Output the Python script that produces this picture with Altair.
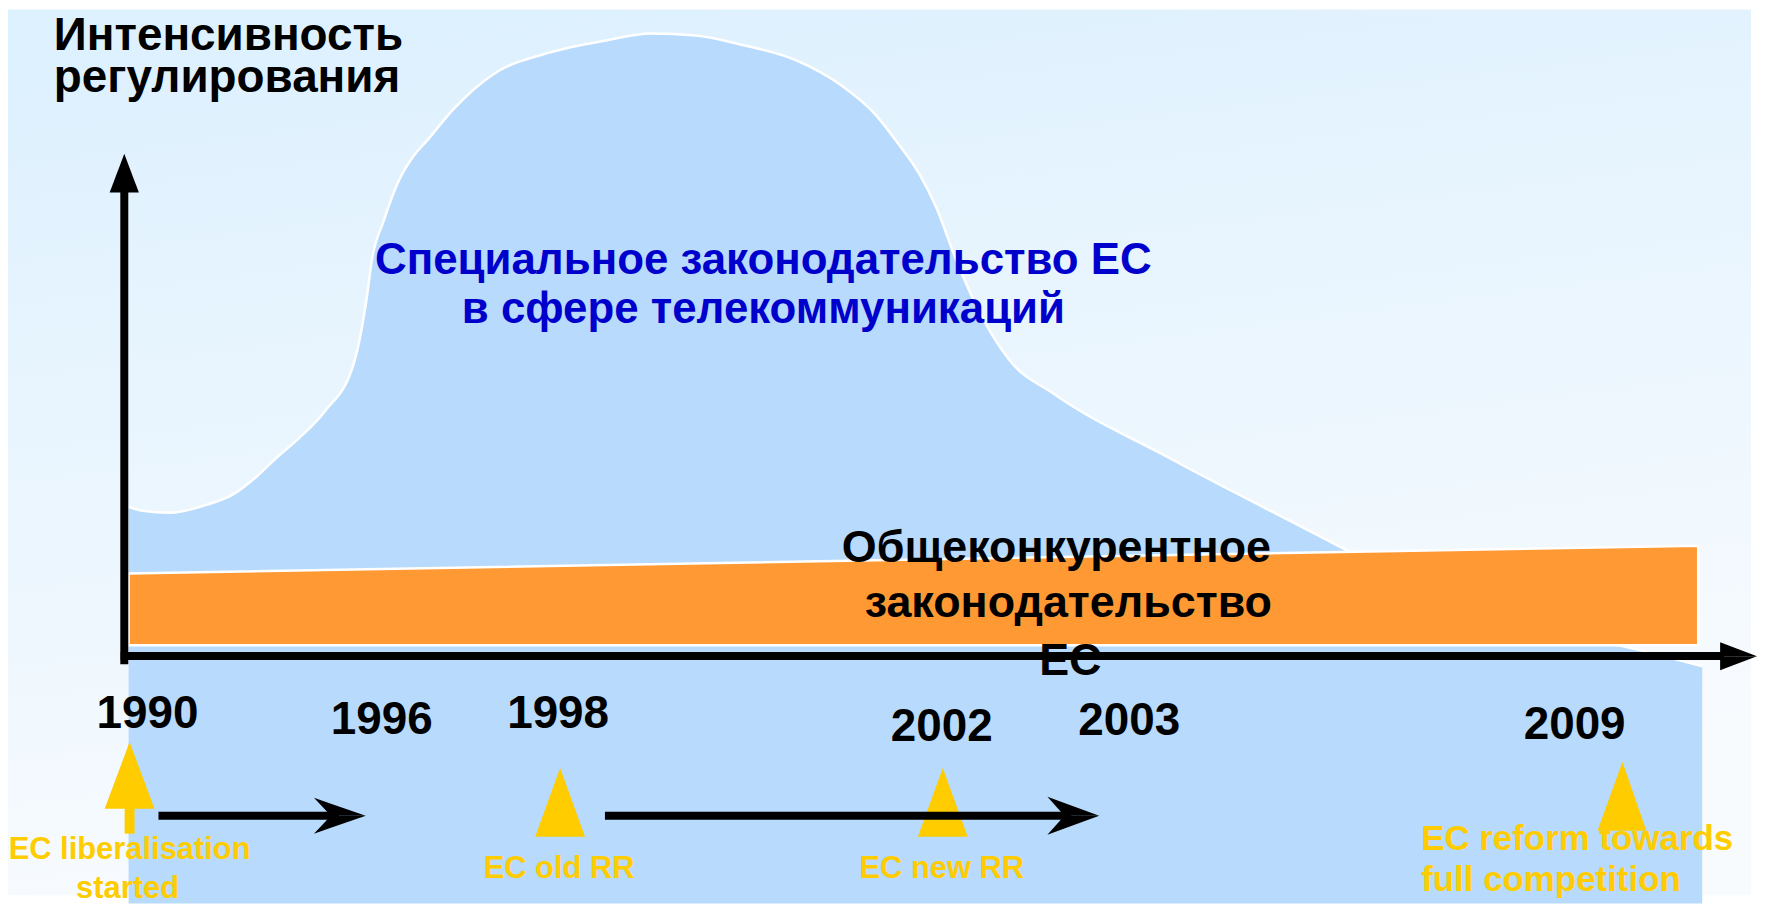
import altair as alt
import pandas as pd

# ---- data (diagram units = reference pixel grid) ----
hump_x = [129, 143, 170, 207, 233, 257, 275, 300, 326, 355, 362, 368, 373, 385, 400, 415, 428,
          456, 495, 552, 608, 653, 698, 743, 799, 844, 878, 900, 923, 940, 957, 979, 1013, 1058,
          1177, 1350, 1480, 1633, 1708]
hump_y = [507, 511, 513, 505, 495, 477, 460, 438, 411, 363, 333, 297, 260, 220, 180, 155, 140,
          107, 73, 51, 39, 32, 34, 43, 59, 84, 113, 141, 174, 208, 253, 304, 360, 394,
          460, 550, 620, 648, 667]
hump_floor = 905

band_x = [129, 1704]
band_top = [574, 546]
band_bottom = [646, 646]

axis_title = ["Интенсивность", "регулирования"]
axis_title_x = [54, 54]
axis_title_y = [49, 91]

special_lines = ["Специальное законодательство ЕС", "в сфере телекоммуникаций"]
special_x = [766, 766]
special_y = [273, 323]

general_lines = ["Общеконкурентное", "законодательство", "ЕС"]
general_x = [1060, 1072, 1074]
general_y = [562, 618, 676]

year_labels = ["1990", "1996", "1998", "2002", "2003", "2009"]
year_x = [148, 383, 560, 945, 1133, 1580]
year_y = [729, 735, 729, 742, 736, 740]

event_center_text = ["EC liberalisation", "started", "EC old RR", "EC new RR"]
event_center_x = [130, 128, 561, 945]
event_center_y = [860, 900, 879, 879]
event_left_text = ["EC reform towards", "full competition"]
event_left_x = [1426, 1426]
event_left_y = [851, 892]

# event markers: apex x, apex y, base left, base right, base y
marker_apex_x = [130, 562, 946, 1628]
marker_apex_y = [743, 769, 769, 763]
marker_left = [105, 537, 921, 1603]
marker_right = [155, 587, 971, 1652]
marker_base = [810, 838, 838, 832]

# straight strokes: axes and period arrows (x, y, x2, y2)
stroke_x = [124.7, 121, 159, 607]
stroke_y = [191, 656.7, 817, 817]
stroke_x2 = [124.7, 1730, 340, 1075]
stroke_y2 = [665, 656.7, 817, 817]

# right-pointing heads: tip x, back x, notch x, centre y, half height
head_tip = [1763, 367, 1103]
head_back = [1726, 315, 1051]
head_notch = [1726, 332, 1068]
head_y = [657, 817, 817]
head_half = [14, 18, 19]

# y axis head
yhead_apex = (124.7, 152.7)
yhead_base = (110, 139.3, 191.7)

FONT = "Liberation Sans"
BLUE_FILL = "#b8dafc"
ORANGE = "#ff9933"
YELLOW = "#ffcc00"
DARK_BLUE = "#0000cc"

XS = alt.Scale(domain=[8, 1757], nice=False, zero=False)
YS = alt.Scale(domain=[8, 897], nice=False, zero=False, reverse=True)


def X(f="x"):
    return alt.X(f"{f}:Q", scale=XS, axis=None)


def Y(f="y"):
    return alt.Y(f"{f}:Q", scale=YS, axis=None)


# ---- background ----
bg = alt.Chart(pd.DataFrame({"x": [8], "x2": [1757], "y": [8], "y2": [897]})).mark_rect(
    color=alt.LinearGradient(
        gradient="linear",
        stops=[alt.GradientStop(offset=0, color="#dcf0fe"),
               alt.GradientStop(offset=1, color="#f8fbfe")],
        x1=0, y1=0, x2=0.25, y2=1,
    )
).encode(x=X(), x2="x2:Q", y=Y(), y2="y2:Q")

hump_df = pd.DataFrame({"x": hump_x, "y": hump_y, "y2": [hump_floor] * len(hump_x)})
hump = alt.Chart(hump_df).mark_area(interpolate="monotone", color=BLUE_FILL).encode(
    x=X(), y=Y(), y2="y2:Q")
hump_edge = alt.Chart(hump_df).mark_line(interpolate="monotone", color="white", strokeWidth=2.5).encode(
    x=X(), y=Y())

band = alt.Chart(pd.DataFrame({"x": band_x, "y": band_top, "y2": band_bottom})).mark_area(
    color=ORANGE, stroke="white", strokeWidth=2.5).encode(x=X(), y=Y(), y2="y2:Q")

strokes = alt.Chart(pd.DataFrame({"x": stroke_x, "y": stroke_y, "x2": stroke_x2, "y2": stroke_y2})).mark_rule(
    color="black", strokeWidth=8, strokeCap="butt").encode(x=X(), y=Y(), x2="x2:Q", y2="y2:Q")

# right-pointing (notched) heads, each as two barbs drawn as vertical areas
rows = []
gid = 0
for i in range(len(head_tip)):
    B, T, N, c, h = head_back[i], head_tip[i], head_notch[i], head_y[i], head_half[i]
    k = h * (N - B) / (T - B)
    rows += [
        {"id": gid, "x": B, "y": c - h, "y2": c - h},
        {"id": gid, "x": N, "y": c - h + k, "y2": c},
        {"id": gid, "x": T, "y": c, "y2": c},
    ]
    gid += 1
    rows += [
        {"id": gid, "x": B, "y": c + h, "y2": c + h},
        {"id": gid, "x": N, "y": c + h - k, "y2": c},
        {"id": gid, "x": T, "y": c, "y2": c},
    ]
    gid += 1
heads = alt.Chart(pd.DataFrame(rows)).mark_area(color="black").encode(
    x=X(), y=Y(), y2="y2:Q", detail="id:N")

yhead = alt.Chart(pd.DataFrame({
    "x": [yhead_base[0], yhead_apex[0], yhead_base[1]],
    "y": [yhead_base[2], yhead_apex[1], yhead_base[2]],
    "y2": [yhead_base[2]] * 3})).mark_area(color="black").encode(x=X(), y=Y(), y2="y2:Q")

mrows = []
for i in range(len(marker_apex_x)):
    mrows += [
        {"id": i, "x": marker_left[i], "y": marker_base[i], "y2": marker_base[i]},
        {"id": i, "x": marker_apex_x[i], "y": marker_apex_y[i], "y2": marker_base[i]},
        {"id": i, "x": marker_right[i], "y": marker_base[i], "y2": marker_base[i]},
    ]
markers = alt.Chart(pd.DataFrame(mrows)).mark_area(color=YELLOW).encode(
    x=X(), y=Y(), y2="y2:Q", detail="id:N")
stem = alt.Chart(pd.DataFrame({"x": [125], "x2": [135], "y": [805], "y2": [835]})).mark_rect(
    color=YELLOW).encode(x=X(), x2="x2:Q", y=Y(), y2="y2:Q")


def texts(labels, xs, ys, size, color, align="center"):
    return alt.Chart(pd.DataFrame({"t": labels, "x": xs, "y": ys})).mark_text(
        align=align, baseline="alphabetic", font=FONT, fontSize=size, fontWeight="bold", color=color
    ).encode(x=X(), y=Y(), text="t:N")


t_axis = texts(axis_title, axis_title_x, axis_title_y, 46, "black", "left")
t_special = texts(special_lines, special_x, special_y, 44, DARK_BLUE)
t_general = texts(general_lines, general_x, general_y, 45, "black")
t_years = texts(year_labels, year_x, year_y, 46, "black")
t_ev_c = texts(event_center_text, event_center_x, event_center_y, 31, YELLOW)
t_ev_l = texts(event_left_text, event_left_x, event_left_y, 35, YELLOW, "left")

chart = alt.layer(
    bg, hump, hump_edge, band, t_special, t_general, markers, stem, strokes, heads, yhead,
    t_axis, t_years, t_ev_c, t_ev_l
).properties(width=1749, height=889, padding=0).configure_view(stroke=None)

chart.save("out.html", embed_options={"renderer": "svg", "actions": False})
